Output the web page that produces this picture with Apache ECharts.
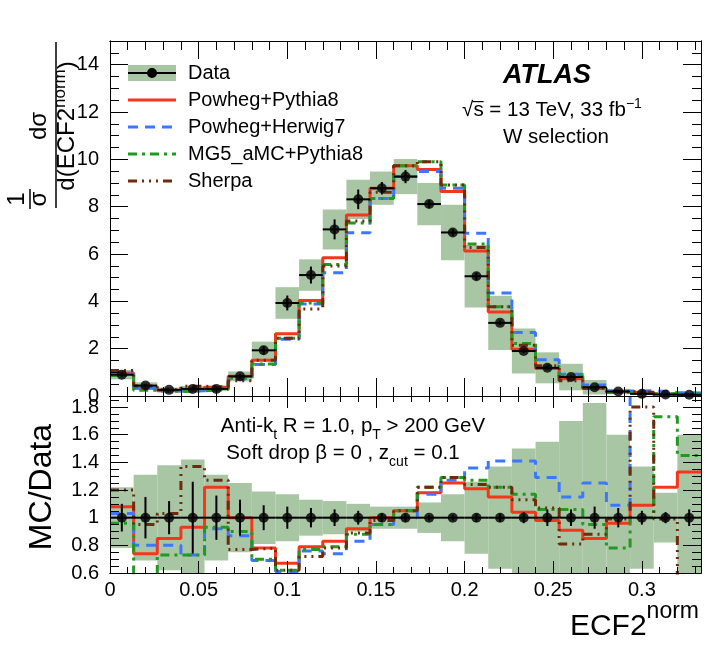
<!DOCTYPE html>
<html>
<head>
<meta charset="utf-8">
<script src="https://cdn.jsdelivr.net/npm/echarts@6.0.0/dist/echarts.min.js"></script>
<style>
  html, body { margin: 0; padding: 0; background: #fff; }
  #chart { width: 724px; height: 647px; }
</style>
</head>
<body>
<div id="chart"></div>
<script>
// binning: 25 equal bins on [0, 1/3]
const nBins = 25;
const xMax = 1 / 3;

// unfolded data, 1/sigma dsigma/dECF2
const dataVals = [0.90, 0.44, 0.26, 0.30, 0.30, 0.83, 1.93, 3.93, 5.11, 7.04, 8.31, 8.78, 9.27,
                  8.11, 6.91, 5.06, 3.09, 1.90, 1.19, 0.80, 0.37, 0.19, 0.09, 0.06, 0.05];
// total uncertainty (relative half width, green band)
const bandRel = [0.22, 0.31, 0.38, 0.42, 0.31, 0.25, 0.19, 0.17, 0.13, 0.12, 0.10, 0.08, 0.08,
                 0.11, 0.17, 0.26, 0.37, 0.50, 0.55, 0.70, 0.83, 0.60, 0.37, 0.18, 0.60];
// statistical uncertainty (relative, black bars)
const statRel = [0.10, 0.15, 0.12, 0.26, 0.16, 0.13, 0.09, 0.08, 0.07, 0.06, 0.05, 0.03, 0.03,
                 0.02, 0.02, 0.03, 0.03, 0.04, 0.06, 0.06, 0.08, 0.07, 0.05, 0.04, 0.06];
// MC / Data
const ratioPythia = [1.08, 0.74, 0.85, 0.93, 1.22, 1.00, 0.78, 0.67, 0.79, 0.83, 0.92, 1.00, 1.05,
                     1.18, 1.25, 1.21, 1.15, 1.04, 0.98, 0.91, 0.85, 0.96, 1.09, 1.22, 1.33];
const ratioHerwig = [1.03, 0.80, 0.80, 0.73, 0.92, 0.87, 0.69, 0.61, 0.76, 0.74, 0.83, 0.95, 1.00,
                     1.17, 1.27, 1.36, 1.41, 1.41, 1.29, 1.15, 1.25, 1.09, 2.50, 2.50, 2.50];
const ratioMG5 = [0.96, 0.55, 0.73, 0.73, 0.93, 0.90, 0.70, 0.62, 0.77, 0.79, 0.88, 0.95, 1.05,
                  1.22, 1.29, 1.27, 1.22, 1.17, 1.06, 1.06, 0.95, 0.78, 1.00, 1.73, 1.45];
const ratioSherpa = [1.20, 0.95, 1.03, 1.37, 1.27, 0.77, 0.78, 0.62, 0.72, 0.78, 0.89, 0.98, 1.05,
                     1.22, 1.29, 1.24, 1.22, 1.13, 1.07, 0.81, 0.88, 0.99, 1.80, 0.99, 0.50];

const FONT = '"Liberation Sans", Arial, Helvetica, sans-serif';
const bandColor = '#a8c5a4';

const models = [
  { name: 'Powheg+Pythia8', ratio: ratioPythia, color: '#f5361a', dash: 'solid' },
  { name: 'Powheg+Herwig7', ratio: ratioHerwig, color: '#3c78ff', dash: [10, 7] },
  { name: 'MG5_aMC+Pythia8', ratio: ratioMG5, color: '#209a20', dash: [9, 5, 3, 5] },
  { name: 'Sherpa', ratio: ratioSherpa, color: '#6e2c0c', dash: [9, 5, 2, 5, 2, 5, 2, 5] }
];

const edges = Array.from({ length: nBins + 1 }, (_, k) => k * xMax / nBins);
const centers = dataVals.map((_, k) => (edges[k] + edges[k + 1]) / 2);
const stepData = vals => edges.map((e, k) => [e, vals[Math.min(k, nBins - 1)]]);

const chart = echarts.init(document.getElementById('chart'));

// ---- axes: each side gets a major-tick axis and a minor-tick axis (ATLAS style box)
function axis(gridIndex, position, o) {
  return {
    type: 'value', gridIndex, position, z: 10,
    min: o.min, max: o.max, interval: o.interval,
    axisLine: { show: true, onZero: false, lineStyle: { color: '#000', width: 1 } },
    axisTick: { show: true, inside: true, length: o.len, lineStyle: { color: '#000', width: 1 } },
    axisLabel: {
      show: !!o.labels, color: '#000', fontSize: 20, fontFamily: FONT, margin: o.margin || 8,
      showMaxLabel: false
    },
    splitLine: { show: false }
  };
}
const xAxes = [];
const yAxes = [];
[[0, 18, 9, false], [1, 12, 6, true]].forEach(([g, maj, min, lab]) => {
  xAxes.push(axis(g, 'bottom', { min: 0, max: xMax, interval: 0.05, len: maj, labels: lab, margin: 7 }));
  xAxes.push(axis(g, 'bottom', { min: 0, max: xMax, interval: 0.01, len: min }));
  xAxes.push(axis(g, 'top', { min: 0, max: xMax, interval: 0.05, len: maj }));
  xAxes.push(axis(g, 'top', { min: 0, max: xMax, interval: 0.01, len: min }));
});
[[0, 0, 15, 2, 0.5], [1, 0.6, 1.88, 0.2, 0.05]].forEach(([g, lo, hi, iv, miv]) => {
  yAxes.push(axis(g, 'left', { min: lo, max: hi, interval: iv, len: 18, labels: true, margin: 11 }));
  yAxes.push(axis(g, 'left', { min: lo, max: hi, interval: miv, len: 9 }));
  yAxes.push(axis(g, 'right', { min: lo, max: hi, interval: iv, len: 18 }));
  yAxes.push(axis(g, 'right', { min: lo, max: hi, interval: miv, len: 9 }));
});

// ---- series helpers
function clipTo(params, r) {
  const c = params.coordSys;
  return echarts.graphic.clipRectByRect(r, { x: c.x, y: c.y, width: c.width, height: c.height });
}
function bandSeries(ai, lo, hi) {
  return {
    type: 'custom', xAxisIndex: ai, yAxisIndex: ai, z: 1, silent: true,
    data: lo.map((l, k) => [edges[k], edges[k + 1], l, hi[k]]),
    encode: { x: [0, 1], y: [2, 3] },
    renderItem: (params, api) => {
      const a = api.coord([api.value(0), api.value(3)]);
      const b = api.coord([api.value(1), api.value(2)]);
      const shape = clipTo(params, { x: a[0], y: a[1], width: b[0] - a[0], height: b[1] - a[1] });
      return shape && { type: 'rect', shape, style: { fill: bandColor } };
    }
  };
}
function errSeries(ai, vals, errs) {
  return {
    type: 'custom', xAxisIndex: ai, yAxisIndex: ai, z: 5, silent: true,
    data: vals.map((v, k) => [edges[k], edges[k + 1], v, v - errs[k], v + errs[k]]),
    encode: { x: [0, 1], y: [2, 3, 4] },
    renderItem: (params, api) => {
      const l = api.coord([api.value(0), api.value(2)]);
      const r = api.coord([api.value(1), api.value(2)]);
      const c = (l[0] + r[0]) / 2;
      const t = api.coord([0, api.value(4)])[1];
      const b = api.coord([0, api.value(3)])[1];
      const st = { stroke: '#000', lineWidth: 2 };
      return {
        type: 'group', children: [
          { type: 'line', shape: { x1: l[0], y1: l[1], x2: r[0], y2: r[1] }, style: st },
          { type: 'line', shape: { x1: c, y1: t, x2: c, y2: b }, style: st }
        ]
      };
    }
  };
}
function markerSeries(ai, vals) {
  return {
    type: 'scatter', xAxisIndex: ai, yAxisIndex: ai, z: 6, silent: true,
    symbol: 'circle', symbolSize: 10, itemStyle: { color: '#000' },
    data: vals.map((v, k) => [centers[k], v])
  };
}
function histSeries(ai, m, vals) {
  return {
    type: 'line', name: m.name, xAxisIndex: ai, yAxisIndex: ai, z: 3, silent: true,
    step: 'end', showSymbol: false, symbol: 'none', clip: true,
    lineStyle: { color: m.color, width: 3, type: m.dash },
    data: stepData(vals)
  };
}

const series = [];
// upper panel
series.push(bandSeries(0, dataVals.map((v, k) => v * (1 - bandRel[k])), dataVals.map((v, k) => v * (1 + bandRel[k]))));
models.forEach(m => series.push(histSeries(0, m, dataVals.map((v, k) => v * m.ratio[k]))));
series.push(errSeries(0, dataVals, dataVals.map((v, k) => v * statRel[k])));
series.push(markerSeries(0, dataVals));
// ratio panel
const ones = dataVals.map(() => 1);
series.push(bandSeries(4, bandRel.map(b => 1 - b), bandRel.map(b => 1 + b)));
models.forEach(m => series.push(histSeries(4, m, m.ratio)));
series.push(errSeries(4, ones, statRel));
series.push(markerSeries(4, ones));

// ---- text helpers (sub/superscripts laid out with measured widths)
const mctx = document.createElement('canvas').getContext('2d');
function measure(t, size, weight) {
  mctx.font = `${weight || 'normal'} ${size}px ${FONT}`;
  return mctx.measureText(t).width;
}
function txt(t, x, y, size, extra) {
  return {
    type: 'text', x, y, silent: true, z: 20,
    style: Object.assign({ text: t, fontSize: size, fontFamily: FONT, fill: '#000', align: 'left', verticalAlign: 'middle' }, extra || {})
  };
}
// horizontal run, baseline at y
function run(segs, x, y, align) {
  const w = segs.map(s => measure(s.t, s.s));
  const total = w.reduce((a, b) => a + b, 0);
  let cx = align === 'center' ? x - total / 2 : (align === 'right' ? x - total : x);
  const out = [];
  segs.forEach((s, i) => {
    out.push(txt(s.t, cx, y + (s.dy || 0) - 0.35 * s.s, s.s));
    if (s.over) {
      out.push({ type: 'line', silent: true, z: 20, shape: { x1: cx - 1, y1: y - 0.8 * s.s, x2: cx + w[i], y2: y - 0.8 * s.s }, style: { stroke: '#000', lineWidth: 1.2 } });
    }
    cx += w[i];
  });
  return out;
}
// vertical run reading bottom-to-top, baseline at screen x = xb, centred on screen y = yc
function runRot(segs, xb, yc) {
  const w = segs.map(s => measure(s.t, s.s));
  const total = w.reduce((a, b) => a + b, 0);
  let yy = yc + total / 2;
  const out = [];
  segs.forEach((s, i) => {
    const e = txt(s.t, xb + (s.dy || 0) - 0.35 * s.s, yy, s.s);
    e.rotation = Math.PI / 2;
    out.push(e);
    yy -= w[i];
  });
  return out;
}

const g = [];
// legend
const legX0 = 128, legX1 = 176, legTx = 188;
const legY = [73, 100, 127, 154, 181];
g.push({ type: 'rect', silent: true, z: 20, shape: { x: legX0, y: legY[0] - 8, width: legX1 - legX0, height: 16 }, style: { fill: bandColor } });
g.push({ type: 'line', silent: true, z: 20, shape: { x1: legX0, y1: legY[0], x2: legX1, y2: legY[0] }, style: { stroke: '#000', lineWidth: 2 } });
g.push({ type: 'circle', silent: true, z: 21, shape: { cx: (legX0 + legX1) / 2, cy: legY[0], r: 5 }, style: { fill: '#000' } });
g.push(txt('Data', legTx, legY[0], 20));
models.forEach((m, i) => {
  const y = legY[i + 1];
  g.push({ type: 'line', silent: true, z: 20, shape: { x1: legX0, y1: y, x2: legX1, y2: y },
           style: { stroke: m.color, lineWidth: 3, lineDash: m.dash === 'solid' ? null : m.dash } });
  g.push(txt(m.name, legTx, y, 20));
});
// ATLAS label block
g.push(txt('ATLAS', 547, 76, 27, { align: 'center', fontWeight: 'bold', fontStyle: 'italic' }));
g.push(...run([{ t: '√', s: 20.5 }, { t: 's', s: 20.5, over: true }, { t: ' = 13 TeV, 33 fb', s: 20.5 }, { t: '−1', s: 14, dy: -9 }], 552, 118, 'center'));
g.push(...run([{ t: 'W selection', s: 20.5 }], 556, 145, 'center'));
// ratio panel annotations
g.push(...run([{ t: 'Anti-k', s: 20.5 }, { t: 't', s: 14, dy: 6 }, { t: ' R = 1.0, p', s: 20.5 }, { t: 'T', s: 14, dy: 6 }, { t: ' > 200 GeV', s: 20.5 }], 353, 434, 'center'));
g.push(...run([{ t: 'Soft drop β = 0 , z', s: 20.5 }, { t: 'cut', s: 14, dy: 6 }, { t: ' = 0.1', s: 20.5 }], 343, 461, 'center'));
// x title
g.push(...run([{ t: 'ECF2', s: 30 }, { t: 'norm', s: 23, dy: -17 }], 699, 637, 'right'));
// y titles
g.push(...runRot([{ t: 'MC/Data', s: 32 }], 53, 487));
g.push(...runRot([{ t: '1', s: 24 }], 26, 199));
g.push({ type: 'line', silent: true, z: 20, shape: { x1: 30, y1: 189, x2: 30, y2: 209 }, style: { stroke: '#000', lineWidth: 1.5 } });
g.push(...runRot([{ t: 'σ', s: 24 }], 48, 199));
g.push(...runRot([{ t: 'dσ', s: 24 }], 48, 126));
g.push({ type: 'line', silent: true, z: 20, shape: { x1: 56, y1: 42, x2: 56, y2: 208 }, style: { stroke: '#000', lineWidth: 1.5 } });
g.push(...runRot([{ t: 'd(ECF2', s: 24 }, { t: 'norm', s: 17, dy: -10 }, { t: ')', s: 24 }], 76, 126));

chart.setOption({
  animation: false,
  backgroundColor: '#fff',
  grid: [
    { left: 110, right: 23, top: 41, height: 355, outerBoundsMode: 'none' },
    { left: 110, right: 23, top: 396, height: 177, outerBoundsMode: 'none' }
  ],
  xAxis: xAxes,
  yAxis: yAxes,
  series,
  graphic: { elements: g }
});
</script>
</body>
</html>
